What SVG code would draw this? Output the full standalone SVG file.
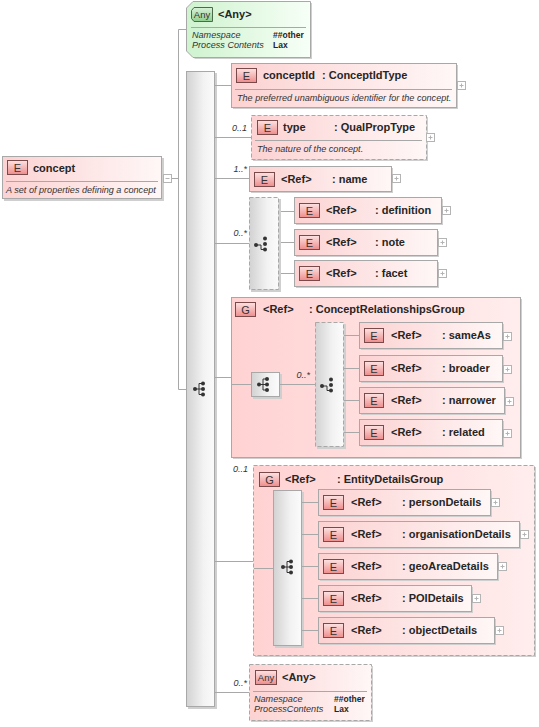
<svg xmlns="http://www.w3.org/2000/svg" width="539" height="727" viewBox="0 0 539 727">
<defs>
<linearGradient id="gE" x1="0" y1="0" x2="1" y2="0"><stop offset="0" stop-color="#fcd2d2"/><stop offset="1" stop-color="#fff7f7"/></linearGradient>
<linearGradient id="gG" x1="0" y1="0" x2="1" y2="0"><stop offset="0" stop-color="#ffd2d2"/><stop offset="1" stop-color="#ffeded"/></linearGradient>
<linearGradient id="gS" x1="0" y1="0" x2="1" y2="0"><stop offset="0" stop-color="#d2d2d2"/><stop offset="0.6" stop-color="#f2f2f2"/><stop offset="1" stop-color="#fbfbfb"/></linearGradient>
<linearGradient id="gA" x1="0" y1="0" x2="1" y2="0"><stop offset="0" stop-color="#cff3cf"/><stop offset="1" stop-color="#f7fff7"/></linearGradient>
<linearGradient id="gB" x1="0" y1="0" x2="0" y2="1"><stop offset="0" stop-color="#fde3e3"/><stop offset="1" stop-color="#ee8c8c"/></linearGradient>
<linearGradient id="gBA" x1="0" y1="0" x2="0" y2="1"><stop offset="0" stop-color="#d8f2d8"/><stop offset="1" stop-color="#8fcf8f"/></linearGradient>
<g id="seq">
<path d="M0,0H4M4,-5.5V5.5M4,-5.5H8M4,0H8M4,5.5H8" stroke="#333" stroke-width="1" fill="none"/>
<circle cx="0" cy="0" r="2" fill="#333"/><circle cx="8" cy="-5.5" r="2" fill="#333"/><circle cx="8" cy="0" r="2" fill="#333"/><circle cx="8" cy="5.5" r="2" fill="#333"/>
</g>
<g id="cho">
<path d="M0,1H5V5.5H8.5" stroke="#333" stroke-width="1" fill="none"/>
<circle cx="0" cy="1" r="2" fill="#333"/><circle cx="9" cy="-5.5" r="2" fill="#333"/><circle cx="9" cy="0" r="2" fill="#333"/><circle cx="9" cy="5.5" r="2" fill="#333"/>
</g>
<g id="plus"><rect x="0.5" y="0.5" width="8" height="8" fill="#fff" stroke="#b4b4b4"/><path d="M2.5,4.5H6.5M4.5,2.5V6.5" stroke="#b4b4b4"/></g>
</defs>
<style>
.ln{stroke:#a8a8a8;stroke-width:1;fill:none}
.box{fill:url(#gE);stroke:#a8a8a8;stroke-width:1}
.dash{stroke-dasharray:4,2}
.grp{fill:url(#gG);stroke:#a8a8a8;stroke-width:1}
.seqb{fill:url(#gS);stroke:#a8a8a8;stroke-width:1}
.sh{fill:#cfcfcf}
.bd{fill:url(#gB);stroke:#7a4a4a;stroke-width:1}
.t{font-family:"Liberation Sans",Arial,sans-serif;font-size:11px;font-weight:bold;fill:#262626}
.bt{font-family:"Liberation Sans",Arial,sans-serif;font-size:11px;fill:#333;text-anchor:middle}
.d{font-family:"Liberation Sans",Arial,sans-serif;font-size:9.1px;font-style:italic;fill:#333}
.m{font-family:"Liberation Sans",Arial,sans-serif;font-size:9px;font-style:italic;fill:#333;text-anchor:end}
.v{font-family:"Liberation Sans",Arial,sans-serif;font-size:8.5px;font-weight:bold;fill:#262626}
.dv{stroke:#a8a8a8;stroke-width:1}
</style>

<g id="mainSeq">
<rect class="sh" x="188" y="73" width="29" height="636"/>
<rect class="seqb" x="186.5" y="71.5" width="28" height="635"/>
<use href="#seq" x="195" y="389"/>
</g>

<g id="ConceptRelationshipsGroup">
<rect class="sh" x="233" y="299" width="289" height="160"/>
<rect class="grp" x="231.5" y="297.5" width="289" height="160"/>
<rect class="bd" x="235.5" y="302.5" width="20" height="14"/>
<text class="bt" x="245.5" y="314">G</text>
<text class="t" x="263" y="313">&lt;Ref&gt;</text>
<text class="t" x="309" y="313">: ConceptRelationshipsGroup</text>
<rect class="sh" x="253" y="374" width="29" height="25"/>
<rect class="seqb" x="251.5" y="372.5" width="28" height="24"/>
<use href="#seq" x="259" y="384.5"/>
<rect class="sh" x="317" y="324" width="29" height="125"/>
<rect class="seqb dash" x="315.5" y="322.5" width="28" height="124"/>
<use href="#cho" x="322" y="385"/>
</g>

<g id="EntityDetailsGroup">
<rect class="sh" x="255" y="467" width="281" height="190"/>
<rect class="grp dash" x="253.5" y="465.5" width="281" height="190"/>
<rect class="bd" x="259.5" y="472.5" width="20" height="14"/>
<text class="bt" x="269.5" y="484">G</text>
<text class="t" x="285" y="483">&lt;Ref&gt;</text>
<text class="t" x="337" y="483">: EntityDetailsGroup</text>
<rect class="sh" x="275" y="492" width="29" height="156"/>
<rect class="seqb" x="273.5" y="490.5" width="28" height="155"/>
<use href="#seq" x="283" y="567"/>
</g>

<g id="connectors">
<path class="ln" d="M171.5,178.5H178.5M178.5,29.5V389.5M178.5,29.5H186M178.5,389.5H186"/>
<path class="ln" d="M215,85.5H231M215,137.5H251M215,178.5H249M215,243.5H249M215,377.5H231M215,561.5H253M215,692.5H249"/>
<path class="ln" d="M279,211.5H294M279,242.5H294M279,273.5H294"/>
<path class="ln" d="M232,384.5H251M280,384.5H315M344,335.5H359M344,368.5H359M344,400.5H359M344,432.5H359"/>
<path class="ln" d="M254,568.5H273M302,502.5H318M302,534.5H318M302,566.5H318M302,598.5H318M302,630.5H318"/>
<text class="m" x="247" y="131">0..1</text>
<text class="m" x="247" y="172">1..*</text>
<text class="m" x="247" y="236">0..*</text>
<text class="m" x="310" y="378">0..*</text>
<text class="m" x="248" y="472">0..1</text>
<text class="m" x="247" y="686">0..*</text>
</g>

<g id="concept">
<rect class="sh" x="4" y="158" width="160" height="43"/>
<rect class="box" x="2.5" y="156.5" width="159" height="42"/>
<rect class="bd" x="7.5" y="160.5" width="20" height="14"/>
<text class="bt" x="17.5" y="172">E</text>
<text class="t" x="33" y="172">concept</text>
<line class="dv" x1="6" y1="181.5" x2="158" y2="181.5"/>
<text class="d" x="6" y="193">A set of properties defining a concept</text>
<rect x="163.5" y="174.5" width="8" height="8" fill="#fff" stroke="#b4b4b4"/>
<path d="M165.5,178.5H169.5" stroke="#b4b4b4"/>
</g>

<g id="anyTop">
<polygon points="195,3 312,3 312,59 195,59 188,52 188,10" class="sh"/>
<polygon points="193,1.5 310.5,1.5 310.5,57.5 193,57.5 186.5,51 186.5,8" fill="url(#gA)" stroke="#a8a8a8"/>
<polygon points="194,7.5 212.5,7.5 212.5,21.5 194,21.5 191.5,18.5 191.5,10.5" fill="url(#gBA)" stroke="#4a6a4a"/>
<text x="202" y="18" font-family="'Liberation Sans',Arial,sans-serif" font-size="9.5" fill="#333" text-anchor="middle">Any</text>
<text class="t" x="218" y="18">&lt;Any&gt;</text>
<line class="dv" x1="191" y1="27.5" x2="306" y2="27.5"/>
<text class="d" x="192" y="38">Namespace</text>
<text class="d" x="192" y="48">Process Contents</text>
<text class="v" x="273" y="38">##other</text>
<text class="v" x="273" y="48">Lax</text>
</g>

<g id="conceptId">
<rect class="sh" x="233" y="65" width="225" height="44"/>
<rect class="box" x="231.5" y="63.5" width="225" height="44"/>
<rect class="bd" x="236.5" y="68.5" width="20" height="14"/>
<text class="bt" x="246.5" y="80">E</text>
<text class="t" x="263" y="79">conceptId</text>
<text class="t" x="322" y="79">: ConceptIdType</text>
<line class="dv" x1="235" y1="89.5" x2="452" y2="89.5"/>
<text class="d" x="237" y="101">The preferred unambiguous identifier for the concept.</text>
<use href="#plus" x="457" y="81"/>
</g>

<g id="type">
<rect class="sh" x="253" y="117" width="175" height="44"/>
<rect class="box dash" x="251.5" y="115.5" width="175" height="44"/>
<rect class="bd" x="257.5" y="120.5" width="20" height="14"/>
<text class="bt" x="267.5" y="132">E</text>
<text class="t" x="283" y="131">type</text>
<text class="t" x="334" y="131">: QualPropType</text>
<line class="dv" x1="255" y1="140.5" x2="422" y2="140.5"/>
<text class="d" x="257" y="152">The nature of the concept.</text>
<use href="#plus" x="426" y="133"/>
</g>

<g id="name">
<rect class="sh" x="251" y="168" width="142" height="25"/>
<rect class="box" x="249.5" y="166.5" width="142" height="25"/>
<rect class="bd" x="254.5" y="172.5" width="20" height="14"/>
<text class="bt" x="264.5" y="184">E</text>
<text class="t" x="281" y="183">&lt;Ref&gt;</text>
<text class="t" x="332" y="183">: name</text>
<use href="#plus" x="392" y="174"/>
</g>

<g id="choice1">
<rect class="sh" x="251" y="199" width="30" height="93"/>
<rect class="seqb dash" x="249.5" y="197.5" width="29" height="92"/>
<use href="#cho" x="256" y="244"/>
</g>

<g id="definition">
<rect class="sh" x="296" y="199" width="147" height="26"/>
<rect class="box" x="294.5" y="197.5" width="147" height="26"/>
<rect class="bd" x="299.5" y="203.5" width="20" height="14"/>
<text class="bt" x="309.5" y="215">E</text>
<text class="t" x="326" y="214">&lt;Ref&gt;</text>
<text class="t" x="375" y="214">: definition</text>
<use href="#plus" x="442" y="206"/>
</g>

<g id="note">
<rect class="sh" x="296" y="231" width="143" height="26"/>
<rect class="box" x="294.5" y="229.5" width="143" height="26"/>
<rect class="bd" x="299.5" y="235.5" width="20" height="14"/>
<text class="bt" x="309.5" y="247">E</text>
<text class="t" x="326" y="246">&lt;Ref&gt;</text>
<text class="t" x="375" y="246">: note</text>
<use href="#plus" x="438" y="238"/>
</g>

<g id="facet">
<rect class="sh" x="296" y="262" width="143" height="26"/>
<rect class="box" x="294.5" y="260.5" width="143" height="26"/>
<rect class="bd" x="299.5" y="266.5" width="20" height="14"/>
<text class="bt" x="309.5" y="278">E</text>
<text class="t" x="326" y="277">&lt;Ref&gt;</text>
<text class="t" x="375" y="277">: facet</text>
<use href="#plus" x="438" y="269"/>
</g>

<g id="sameAs">
<rect class="sh" x="361" y="324" width="143" height="26"/>
<rect class="box" x="359.5" y="322.5" width="143" height="26"/>
<rect class="bd" x="364.5" y="328.5" width="19" height="14"/>
<text class="bt" x="374" y="340">E</text>
<text class="t" x="391" y="339">&lt;Ref&gt;</text>
<text class="t" x="442" y="339">: sameAs</text>
<use href="#plus" x="503" y="332"/>
</g>

<g id="broader">
<rect class="sh" x="361" y="357" width="143" height="26"/>
<rect class="box" x="359.5" y="355.5" width="143" height="26"/>
<rect class="bd" x="364.5" y="361.5" width="19" height="14"/>
<text class="bt" x="374" y="373">E</text>
<text class="t" x="391" y="372">&lt;Ref&gt;</text>
<text class="t" x="442" y="372">: broader</text>
<use href="#plus" x="503" y="365"/>
</g>

<g id="narrower">
<rect class="sh" x="361" y="389" width="145" height="26"/>
<rect class="box" x="359.5" y="387.5" width="145" height="26"/>
<rect class="bd" x="364.5" y="393.5" width="19" height="14"/>
<text class="bt" x="374" y="405">E</text>
<text class="t" x="391" y="404">&lt;Ref&gt;</text>
<text class="t" x="442" y="404">: narrower</text>
<use href="#plus" x="505" y="397"/>
</g>

<g id="related">
<rect class="sh" x="361" y="421" width="143" height="26"/>
<rect class="box" x="359.5" y="419.5" width="143" height="26"/>
<rect class="bd" x="364.5" y="425.5" width="19" height="14"/>
<text class="bt" x="374" y="437">E</text>
<text class="t" x="391" y="436">&lt;Ref&gt;</text>
<text class="t" x="442" y="436">: related</text>
<use href="#plus" x="503" y="429"/>
</g>

<g id="personDetails">
<rect class="sh" x="320" y="491" width="172" height="26"/>
<rect class="box" x="318.5" y="489.5" width="172" height="26"/>
<rect class="bd" x="323.5" y="495.5" width="20" height="14"/>
<text class="bt" x="333.5" y="507">E</text>
<text class="t" x="351" y="506">&lt;Ref&gt;</text>
<text class="t" x="402" y="506">: personDetails</text>
<use href="#plus" x="491" y="498"/>
</g>

<g id="organisationDetails">
<rect class="sh" x="320" y="523" width="201" height="26"/>
<rect class="box" x="318.5" y="521.5" width="201" height="26"/>
<rect class="bd" x="323.5" y="527.5" width="20" height="14"/>
<text class="bt" x="333.5" y="539">E</text>
<text class="t" x="351" y="538">&lt;Ref&gt;</text>
<text class="t" x="402" y="538">: organisationDetails</text>
<use href="#plus" x="520" y="530"/>
</g>

<g id="geoAreaDetails">
<rect class="sh" x="320" y="555" width="179" height="26"/>
<rect class="box" x="318.5" y="553.5" width="179" height="26"/>
<rect class="bd" x="323.5" y="559.5" width="20" height="14"/>
<text class="bt" x="333.5" y="571">E</text>
<text class="t" x="351" y="570">&lt;Ref&gt;</text>
<text class="t" x="402" y="570">: geoAreaDetails</text>
<use href="#plus" x="498" y="562"/>
</g>

<g id="POIDetails">
<rect class="sh" x="320" y="587" width="153" height="26"/>
<rect class="box" x="318.5" y="585.5" width="153" height="26"/>
<rect class="bd" x="323.5" y="591.5" width="20" height="14"/>
<text class="bt" x="333.5" y="603">E</text>
<text class="t" x="351" y="602">&lt;Ref&gt;</text>
<text class="t" x="402" y="602">: POIDetails</text>
<use href="#plus" x="472" y="594"/>
</g>

<g id="objectDetails">
<rect class="sh" x="320" y="619" width="176" height="26"/>
<rect class="box" x="318.5" y="617.5" width="176" height="26"/>
<rect class="bd" x="323.5" y="623.5" width="20" height="14"/>
<text class="bt" x="333.5" y="635">E</text>
<text class="t" x="351" y="634">&lt;Ref&gt;</text>
<text class="t" x="402" y="634">: objectDetails</text>
<use href="#plus" x="495" y="626"/>
</g>

<g id="anyBottom">
<rect class="sh" x="251" y="666" width="122" height="56"/>
<rect class="box dash" x="249.5" y="664.5" width="122" height="56"/>
<rect class="bd" x="255.5" y="670.5" width="21" height="14"/>
<text x="266" y="681" font-family="'Liberation Sans',Arial,sans-serif" font-size="9.5" fill="#333" text-anchor="middle">Any</text>
<text class="t" x="282" y="681">&lt;Any&gt;</text>
<line class="dv" x1="253" y1="691.5" x2="367" y2="691.5"/>
<text class="d" x="254" y="702">Namespace</text>
<text class="d" x="254" y="712">ProcessContents</text>
<text class="v" x="334" y="702">##other</text>
<text class="v" x="334" y="712">Lax</text>
</g>
</svg>
